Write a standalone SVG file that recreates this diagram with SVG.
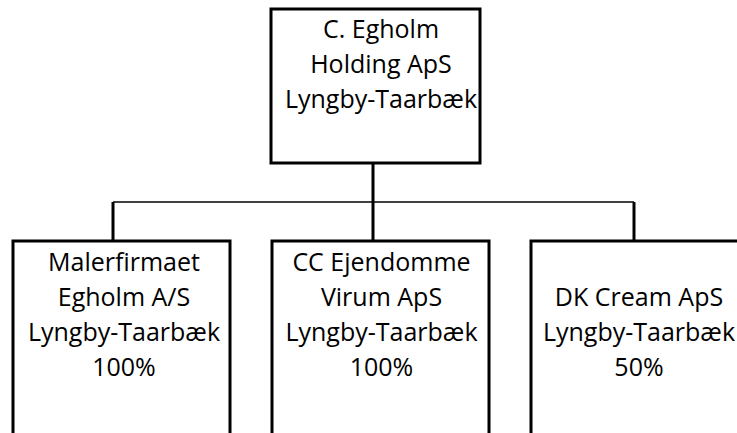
<svg xmlns="http://www.w3.org/2000/svg" width="737" height="433" viewBox="0 0 737 433">
<style>
.box{fill:#fff;stroke:#000;stroke-width:3}
.t{font-family:"Open Sans","Liberation Sans",sans-serif;font-size:25px;fill:#000;text-anchor:middle}
.c{stroke:#000;fill:none}
</style>
<rect width="737" height="433" fill="#fff"/>
<g id="connectors">
<line class="c" x1="373" y1="163" x2="373" y2="241" stroke-width="3"/>
<line class="c" x1="113" y1="202" x2="634" y2="202" stroke-width="1.5"/>
<line class="c" x1="113" y1="202" x2="113" y2="241" stroke-width="3"/>
<line class="c" x1="634" y1="202" x2="634" y2="241" stroke-width="3"/>
</g>
<g id="holding">
<rect class="box" x="271" y="9" width="209" height="154"/>
<text class="t" x="381" y="38">C. Egholm</text>
<text class="t" x="381" y="73">Holding ApS</text>
<text class="t" x="381" y="108">Lyngby-Taarbæk</text>
</g>
<g id="malerfirmaet">
<rect class="box" x="13" y="241" width="217" height="210"/>
<text class="t" x="124" y="271">Malerfirmaet</text>
<text class="t" x="124" y="306">Egholm A/S</text>
<text class="t" x="124" y="341">Lyngby-Taarbæk</text>
<text class="t" x="124" y="376">100%</text>
</g>
<g id="ejendomme">
<rect class="box" x="272" y="241" width="217" height="210"/>
<text class="t" x="381.5" y="271">CC Ejendomme</text>
<text class="t" x="381.5" y="306">Virum ApS</text>
<text class="t" x="381.5" y="341">Lyngby-Taarbæk</text>
<text class="t" x="381.5" y="376">100%</text>
</g>
<g id="dkcream">
<rect class="box" x="531" y="241" width="217" height="210"/>
<text class="t" x="639" y="306">DK Cream ApS</text>
<text class="t" x="639" y="341">Lyngby-Taarbæk</text>
<text class="t" x="639" y="376">50%</text>
</g>
</svg>
